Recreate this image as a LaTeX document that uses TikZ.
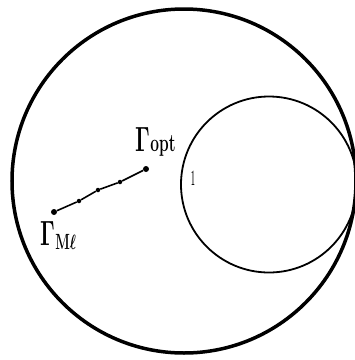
\documentclass[tikz,border=0pt]{standalone}
\begin{document}
\begin{tikzpicture}[x=1pt,y=-1pt,
  dotpt/.style={circle,fill=black,inner sep=0pt,minimum size=6pt},
  smalldot/.style={circle,fill=black,inner sep=0pt,minimum size=4.5pt},
  lbl/.style={inner sep=0pt,anchor=base west,xscale=0.62,font=\bfseries\boldmath}]
\useasboundingbox (0,0) rectangle (355,360);
\draw[line width=3.5pt] (184,181) circle (172);
\draw[line width=1.8pt] (269,184.5) circle (88);
\node[dotpt] (opt) at (146,169) {};
\node[smalldot] (d3) at (120,182) {};
\node[smalldot] (d2) at (98,190) {};
\node[smalldot] (d1) at (79,201) {};
\node[dotpt] (ml) at (54,212) {};
\draw[line width=1.6pt] (ml) -- (d1) -- (d2) -- (d3) -- (opt);
\node[lbl] (lopt) at (135,151) {\fontsize{35}{40}\selectfont Γ\kern1pt\fontsize{25}{30}\selectfont opt};
\node[lbl] (lml) at (40,245) {\fontsize{35}{40}\selectfont Γ\kern1pt\raisebox{-4pt}{\fontsize{22}{24}\selectfont M$\ell$}};
\node[lbl,xscale=0.5] (one) at (191,185) {\fontsize{22}{24}\selectfont 1};
\end{tikzpicture}
\end{document}
